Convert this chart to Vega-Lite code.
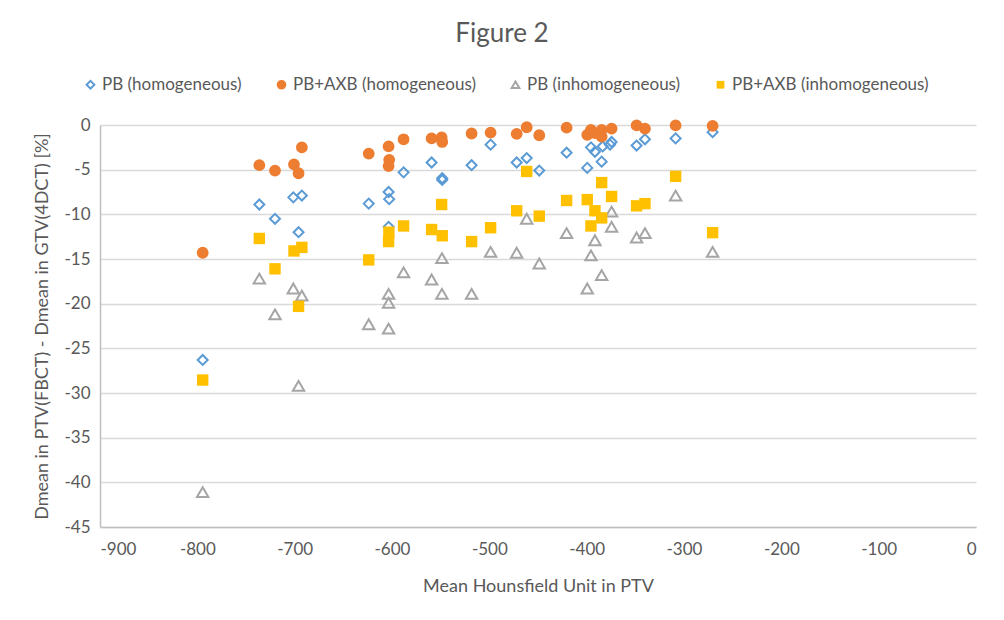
{
  "$schema": "https://vega.github.io/schema/vega-lite/v6.json",
  "width": 876,
  "height": 402,
  "autosize": {"type": "none"},
  "padding": {"left": 100, "top": 125, "right": 28, "bottom": 93},
  "background": "white",
  "title": {
    "text": "Figure 2",
    "fontSize": 26,
    "font": "Lato",
    "fontWeight": "normal",
    "color": "#595959",
    "anchor": "middle",
    "dx": -36,
    "offset": 29
  },
  "config": {
    "font": "Lato",
    "view": {"stroke": null},
    "axis": {
      "labelFont": "Lato",
      "titleFont": "Lato",
      "labelFontSize": 17,
      "titleFontSize": 18,
      "labelColor": "#595959",
      "titleColor": "#595959",
      "titleFontWeight": "normal",
      "domainColor": "#BFBFBF",
      "domainWidth": 1.5,
      "gridColor": "#D9D9D9",
      "gridWidth": 1.5,
      "ticks": false,
      "labelExpr": "replace(datum.label, '−', '-')"
    },
    "legend": {
      "labelFont": "Lato",
      "labelFontSize": 17,
      "labelColor": "#595959",
      "labelLimit": 0
    }
  },
  "data": {
    "values": [
      {"series": "PB (homogeneous)", "hu": -794.5, "diff": -26.3},
      {"series": "PB (homogeneous)", "hu": -736.3, "diff": -8.9},
      {"series": "PB (homogeneous)", "hu": -720.2, "diff": -10.5},
      {"series": "PB (homogeneous)", "hu": -701.4, "diff": -8.1},
      {"series": "PB (homogeneous)", "hu": -692.6, "diff": -7.9},
      {"series": "PB (homogeneous)", "hu": -696.0, "diff": -12.0},
      {"series": "PB (homogeneous)", "hu": -623.9, "diff": -8.8},
      {"series": "PB (homogeneous)", "hu": -603.5, "diff": -7.5},
      {"series": "PB (homogeneous)", "hu": -602.9, "diff": -8.3},
      {"series": "PB (homogeneous)", "hu": -603.5, "diff": -11.4},
      {"series": "PB (homogeneous)", "hu": -588.1, "diff": -5.3},
      {"series": "PB (homogeneous)", "hu": -559.3, "diff": -4.2},
      {"series": "PB (homogeneous)", "hu": -548.4, "diff": -5.95},
      {"series": "PB (homogeneous)", "hu": -548.4, "diff": -6.15},
      {"series": "PB (homogeneous)", "hu": -518.2, "diff": -4.5},
      {"series": "PB (homogeneous)", "hu": -498.7, "diff": -2.2},
      {"series": "PB (homogeneous)", "hu": -471.9, "diff": -4.2},
      {"series": "PB (homogeneous)", "hu": -461.6, "diff": -3.7},
      {"series": "PB (homogeneous)", "hu": -448.7, "diff": -5.1},
      {"series": "PB (homogeneous)", "hu": -420.6, "diff": -3.1},
      {"series": "PB (homogeneous)", "hu": -399.4, "diff": -4.8},
      {"series": "PB (homogeneous)", "hu": -395.6, "diff": -2.5},
      {"series": "PB (homogeneous)", "hu": -391.5, "diff": -3.0},
      {"series": "PB (homogeneous)", "hu": -384.6, "diff": -4.1},
      {"series": "PB (homogeneous)", "hu": -383.6, "diff": -2.4},
      {"series": "PB (homogeneous)", "hu": -374.4, "diff": -1.9},
      {"series": "PB (homogeneous)", "hu": -376.0, "diff": -2.2},
      {"series": "PB (homogeneous)", "hu": -348.7, "diff": -2.3},
      {"series": "PB (homogeneous)", "hu": -340.1, "diff": -1.6},
      {"series": "PB (homogeneous)", "hu": -308.6, "diff": -1.5},
      {"series": "PB (homogeneous)", "hu": -270.6, "diff": -0.8},
      {"series": "PB+AXB (homogeneous)", "hu": -794.5, "diff": -14.3},
      {"series": "PB+AXB (homogeneous)", "hu": -736.3, "diff": -4.5},
      {"series": "PB+AXB (homogeneous)", "hu": -720.2, "diff": -5.1},
      {"series": "PB+AXB (homogeneous)", "hu": -700.7, "diff": -4.4},
      {"series": "PB+AXB (homogeneous)", "hu": -696.0, "diff": -5.4},
      {"series": "PB+AXB (homogeneous)", "hu": -692.6, "diff": -2.5},
      {"series": "PB+AXB (homogeneous)", "hu": -623.9, "diff": -3.2},
      {"series": "PB+AXB (homogeneous)", "hu": -603.5, "diff": -2.4},
      {"series": "PB+AXB (homogeneous)", "hu": -602.9, "diff": -3.9},
      {"series": "PB+AXB (homogeneous)", "hu": -603.5, "diff": -4.6},
      {"series": "PB+AXB (homogeneous)", "hu": -588.1, "diff": -1.6},
      {"series": "PB+AXB (homogeneous)", "hu": -559.3, "diff": -1.5},
      {"series": "PB+AXB (homogeneous)", "hu": -549.0, "diff": -1.4},
      {"series": "PB+AXB (homogeneous)", "hu": -548.4, "diff": -1.9},
      {"series": "PB+AXB (homogeneous)", "hu": -518.2, "diff": -0.95},
      {"series": "PB+AXB (homogeneous)", "hu": -498.7, "diff": -0.85},
      {"series": "PB+AXB (homogeneous)", "hu": -471.9, "diff": -1.0},
      {"series": "PB+AXB (homogeneous)", "hu": -461.6, "diff": -0.25},
      {"series": "PB+AXB (homogeneous)", "hu": -448.7, "diff": -1.15},
      {"series": "PB+AXB (homogeneous)", "hu": -420.6, "diff": -0.3},
      {"series": "PB+AXB (homogeneous)", "hu": -399.4, "diff": -1.1},
      {"series": "PB+AXB (homogeneous)", "hu": -395.6, "diff": -0.55},
      {"series": "PB+AXB (homogeneous)", "hu": -391.5, "diff": -0.9},
      {"series": "PB+AXB (homogeneous)", "hu": -384.6, "diff": -0.55},
      {"series": "PB+AXB (homogeneous)", "hu": -384.6, "diff": -1.3},
      {"series": "PB+AXB (homogeneous)", "hu": -374.4, "diff": -0.4},
      {"series": "PB+AXB (homogeneous)", "hu": -348.7, "diff": -0.05},
      {"series": "PB+AXB (homogeneous)", "hu": -340.1, "diff": -0.4},
      {"series": "PB+AXB (homogeneous)", "hu": -308.6, "diff": -0.05},
      {"series": "PB+AXB (homogeneous)", "hu": -270.6, "diff": -0.1},
      {"series": "PB (inhomogeneous)", "hu": -794.5, "diff": -41.1},
      {"series": "PB (inhomogeneous)", "hu": -736.3, "diff": -17.2},
      {"series": "PB (inhomogeneous)", "hu": -720.2, "diff": -21.2},
      {"series": "PB (inhomogeneous)", "hu": -701.4, "diff": -18.3},
      {"series": "PB (inhomogeneous)", "hu": -692.6, "diff": -19.1},
      {"series": "PB (inhomogeneous)", "hu": -696.0, "diff": -29.2},
      {"series": "PB (inhomogeneous)", "hu": -623.9, "diff": -22.3},
      {"series": "PB (inhomogeneous)", "hu": -603.5, "diff": -18.9},
      {"series": "PB (inhomogeneous)", "hu": -603.5, "diff": -19.9},
      {"series": "PB (inhomogeneous)", "hu": -603.5, "diff": -22.8},
      {"series": "PB (inhomogeneous)", "hu": -588.1, "diff": -16.5},
      {"series": "PB (inhomogeneous)", "hu": -559.3, "diff": -17.3},
      {"series": "PB (inhomogeneous)", "hu": -548.7, "diff": -14.9},
      {"series": "PB (inhomogeneous)", "hu": -548.7, "diff": -18.9},
      {"series": "PB (inhomogeneous)", "hu": -518.2, "diff": -18.9},
      {"series": "PB (inhomogeneous)", "hu": -498.7, "diff": -14.2},
      {"series": "PB (inhomogeneous)", "hu": -471.9, "diff": -14.3},
      {"series": "PB (inhomogeneous)", "hu": -461.6, "diff": -10.5},
      {"series": "PB (inhomogeneous)", "hu": -448.7, "diff": -15.5},
      {"series": "PB (inhomogeneous)", "hu": -420.6, "diff": -12.1},
      {"series": "PB (inhomogeneous)", "hu": -399.4, "diff": -18.3},
      {"series": "PB (inhomogeneous)", "hu": -395.6, "diff": -14.6},
      {"series": "PB (inhomogeneous)", "hu": -391.5, "diff": -12.9},
      {"series": "PB (inhomogeneous)", "hu": -384.6, "diff": -16.8},
      {"series": "PB (inhomogeneous)", "hu": -374.4, "diff": -9.7},
      {"series": "PB (inhomogeneous)", "hu": -374.4, "diff": -11.4},
      {"series": "PB (inhomogeneous)", "hu": -348.7, "diff": -12.6},
      {"series": "PB (inhomogeneous)", "hu": -340.1, "diff": -12.1},
      {"series": "PB (inhomogeneous)", "hu": -308.6, "diff": -7.9},
      {"series": "PB (inhomogeneous)", "hu": -270.6, "diff": -14.2},
      {"series": "PB+AXB (inhomogeneous)", "hu": -794.5, "diff": -28.55},
      {"series": "PB+AXB (inhomogeneous)", "hu": -736.3, "diff": -12.7},
      {"series": "PB+AXB (inhomogeneous)", "hu": -720.2, "diff": -16.1},
      {"series": "PB+AXB (inhomogeneous)", "hu": -700.7, "diff": -14.1},
      {"series": "PB+AXB (inhomogeneous)", "hu": -692.6, "diff": -13.7},
      {"series": "PB+AXB (inhomogeneous)", "hu": -696.0, "diff": -20.3},
      {"series": "PB+AXB (inhomogeneous)", "hu": -623.9, "diff": -15.1},
      {"series": "PB+AXB (inhomogeneous)", "hu": -603.2, "diff": -12.0},
      {"series": "PB+AXB (inhomogeneous)", "hu": -603.5, "diff": -13.05},
      {"series": "PB+AXB (inhomogeneous)", "hu": -588.1, "diff": -11.3},
      {"series": "PB+AXB (inhomogeneous)", "hu": -559.3, "diff": -11.7},
      {"series": "PB+AXB (inhomogeneous)", "hu": -549.0, "diff": -8.9},
      {"series": "PB+AXB (inhomogeneous)", "hu": -548.4, "diff": -12.4},
      {"series": "PB+AXB (inhomogeneous)", "hu": -518.2, "diff": -13.05},
      {"series": "PB+AXB (inhomogeneous)", "hu": -498.7, "diff": -11.5},
      {"series": "PB+AXB (inhomogeneous)", "hu": -471.9, "diff": -9.6},
      {"series": "PB+AXB (inhomogeneous)", "hu": -461.6, "diff": -5.2},
      {"series": "PB+AXB (inhomogeneous)", "hu": -448.7, "diff": -10.2},
      {"series": "PB+AXB (inhomogeneous)", "hu": -420.6, "diff": -8.45},
      {"series": "PB+AXB (inhomogeneous)", "hu": -399.4, "diff": -8.35},
      {"series": "PB+AXB (inhomogeneous)", "hu": -395.6, "diff": -11.3},
      {"series": "PB+AXB (inhomogeneous)", "hu": -391.5, "diff": -9.6},
      {"series": "PB+AXB (inhomogeneous)", "hu": -384.6, "diff": -6.45},
      {"series": "PB+AXB (inhomogeneous)", "hu": -384.6, "diff": -10.4},
      {"series": "PB+AXB (inhomogeneous)", "hu": -374.4, "diff": -8.0},
      {"series": "PB+AXB (inhomogeneous)", "hu": -348.7, "diff": -9.05},
      {"series": "PB+AXB (inhomogeneous)", "hu": -340.1, "diff": -8.8},
      {"series": "PB+AXB (inhomogeneous)", "hu": -308.6, "diff": -5.75},
      {"series": "PB+AXB (inhomogeneous)", "hu": -270.6, "diff": -12.05}
    ]
  },
  "encoding": {
    "x": {
      "field": "hu",
      "type": "quantitative",
      "scale": {"domain": [-900, 0], "nice": false, "zero": false},
      "axis": {
        "title": "Mean Hounsfield Unit in PTV",
        "values": [-900, -800, -700, -600, -500, -400, -300, -200, -100, 0],
        "grid": false,
        "labelPadding": 14,
        "titleY": 59,
        "titleBaseline": "middle"
      }
    },
    "y": {
      "field": "diff",
      "type": "quantitative",
      "scale": {"domain": [-45, 0], "nice": false, "zero": false},
      "axis": {
        "title": "Dmean in PTV(FBCT) - Dmean in GTV(4DCT) [%]",
        "values": [-45, -40, -35, -30, -25, -20, -15, -10, -5, 0],
        "grid": true,
        "labelPadding": 10,
        "titleX": -58,
        "titleY": 201,
        "titleBaseline": "middle",
        "titleAngle": -90
      }
    },
    "shape": {
      "field": "series",
      "type": "nominal",
      "scale": {
        "domain": ["PB (homogeneous)", "PB+AXB (homogeneous)", "PB (inhomogeneous)", "PB+AXB (inhomogeneous)"],
        "range": ["diamond", "circle", "triangle-up", "square"]
      },
      "legend": {
        "title": null,
        "orient": "none",
        "direction": "horizontal",
        "legendX": -18,
        "legendY": -49,
        "padding": 0,
        "columnPadding": 31,
        "symbolSize": 60,
        "labelOffset": 3
      }
    },
    "stroke": {
      "field": "series",
      "type": "nominal",
      "scale": {
        "domain": ["PB (homogeneous)", "PB+AXB (homogeneous)", "PB (inhomogeneous)", "PB+AXB (inhomogeneous)"],
        "range": ["#5B9BD5", "#ED7D31", "#A5A5A5", "#FFC000"]
      },
      "legend": null
    },
    "fill": {
      "field": "series",
      "type": "nominal",
      "scale": {
        "domain": ["PB (homogeneous)", "PB+AXB (homogeneous)", "PB (inhomogeneous)", "PB+AXB (inhomogeneous)"],
        "range": ["transparent", "#ED7D31", "transparent", "#FFC000"]
      },
      "legend": null
    },
    "strokeWidth": {
      "field": "series",
      "type": "nominal",
      "scale": {
        "type": "ordinal",
        "domain": ["PB (homogeneous)", "PB+AXB (homogeneous)", "PB (inhomogeneous)", "PB+AXB (inhomogeneous)"],
        "range": [2, 1.8, 2, 0]
      },
      "legend": null
    }
  },
  "layer": [
    {
      "transform": [{"filter": "indexof(datum.series, 'homogeneous') == indexof(datum.series, '(homogeneous)') + 1"}],
      "mark": {"type": "point", "size": 100, "opacity": 1}
    },
    {
      "transform": [{"filter": "datum.series == 'PB (inhomogeneous)'"}],
      "mark": {"type": "point", "size": 130, "opacity": 1}
    },
    {
      "transform": [{"filter": "datum.series == 'PB+AXB (inhomogeneous)'"}],
      "mark": {"type": "point", "size": 130, "opacity": 1}
    }
  ]
}
